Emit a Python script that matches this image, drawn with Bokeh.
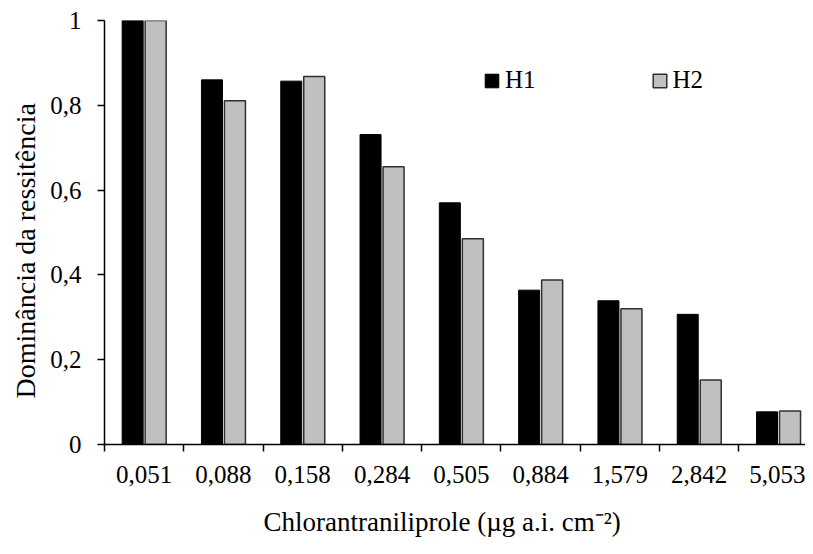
from bokeh.plotting import figure
from bokeh.models import Range1d, FixedTicker, Legend, LegendItem, Title
from bokeh.embed import file_html
from bokeh.resources import INLINE

categories = ["0,051", "0,088", "0,158", "0,284", "0,505", "0,884", "1,579", "2,842", "5,053"]
h1 = [1.0, 0.860, 0.857, 0.731, 0.570, 0.364, 0.339, 0.307, 0.077]
h2 = [1.0, 0.811, 0.868, 0.655, 0.485, 0.388, 0.320, 0.152, 0.079]
y_ticks = [0, 0.2, 0.4, 0.6, 0.8, 1.0]
y_tick_labels = ["0", "0,2", "0,4", "0,6", "0,8", "1"]

FONT = "Liberation Serif"

n = len(categories)
centers = [i + 0.5 for i in range(n)]

p = figure(width=805, height=546, output_backend="svg", toolbar_location=None,
           x_range=Range1d(0, 8.84), y_range=Range1d(0, 1.0),
           min_border_left=104, min_border_right=0, min_border_top=20, min_border_bottom=102)
p.outline_line_color = None
p.grid.grid_line_color = None
p.background_fill_color = "white"
p.border_fill_color = "white"

off = 0.145
w = 0.265
r1 = p.vbar(x=[c - off for c in centers], top=h1, width=w, bottom=0,
            fill_color="black", line_color="black", line_width=1)
r2 = p.vbar(x=[c + off for c in centers], top=h2, width=w, bottom=0,
            fill_color="#c0c0c0", line_color="#303030", line_width=1.5)

# x axis
xa = p.xaxis[0]
xa.ticker = FixedTicker(ticks=centers, minor_ticks=list(range(0, n + 1)))
xa.major_label_overrides = {c: lab for c, lab in zip(centers, categories)}
xa.major_tick_line_color = None
xa.major_tick_out = 7
xa.major_tick_in = 0
xa.minor_tick_out = 7
xa.minor_tick_in = 0
xa.minor_tick_line_color = "black"
xa.minor_tick_line_width = 1.5
xa.axis_line_color = "black"
xa.axis_line_width = 1.5
xa.major_label_standoff = 14
xa.major_label_text_font = FONT
xa.major_label_text_font_size = "25px"
xa.major_label_text_color = "black"
# spacer between tick labels and the title
xa.axis_label = " "
xa.axis_label_text_font_size = "1px"
xa.axis_label_standoff = 13

# y axis
ya = p.yaxis[0]
ya.ticker = FixedTicker(ticks=y_ticks, minor_ticks=[])
ya.major_label_overrides = {t: lab for t, lab in zip(y_ticks, y_tick_labels)}
ya.major_tick_out = 7
ya.major_tick_in = 0
ya.major_tick_line_color = "black"
ya.major_tick_line_width = 1.5
ya.axis_line_color = "black"
ya.axis_line_width = 1.5
ya.major_label_standoff = 16
ya.major_label_text_font = FONT
ya.major_label_text_font_size = "25px"
ya.major_label_text_color = "black"

# titles
yt = Title(text="Dominância da ressitência", align="left", offset=46,
           text_font=FONT, text_font_size="28px", text_font_style="normal",
           text_color="black", standoff=14)
p.add_layout(yt, "left")
xt = Title(text="Chlorantraniliprole (µg a.i. cm⁻²)", align="left", offset=159,
           text_font=FONT, text_font_size="27px", text_font_style="normal",
           text_color="black", standoff=5)
p.add_layout(xt, "below")

legend = Legend(items=[LegendItem(label="H1", renderers=[r1]),
                       LegendItem(label="H2", renderers=[r2])],
                location=(379, 350), orientation="horizontal",
                glyph_width=17, glyph_height=17, label_standoff=5, spacing=115,
                padding=0, margin=0, border_line_color=None,
                background_fill_alpha=0,
                label_text_font=FONT, label_text_font_size="25px",
                label_text_color="black")
p.add_layout(legend, "center")

open("out.html", "w").write(file_html(p, INLINE))
